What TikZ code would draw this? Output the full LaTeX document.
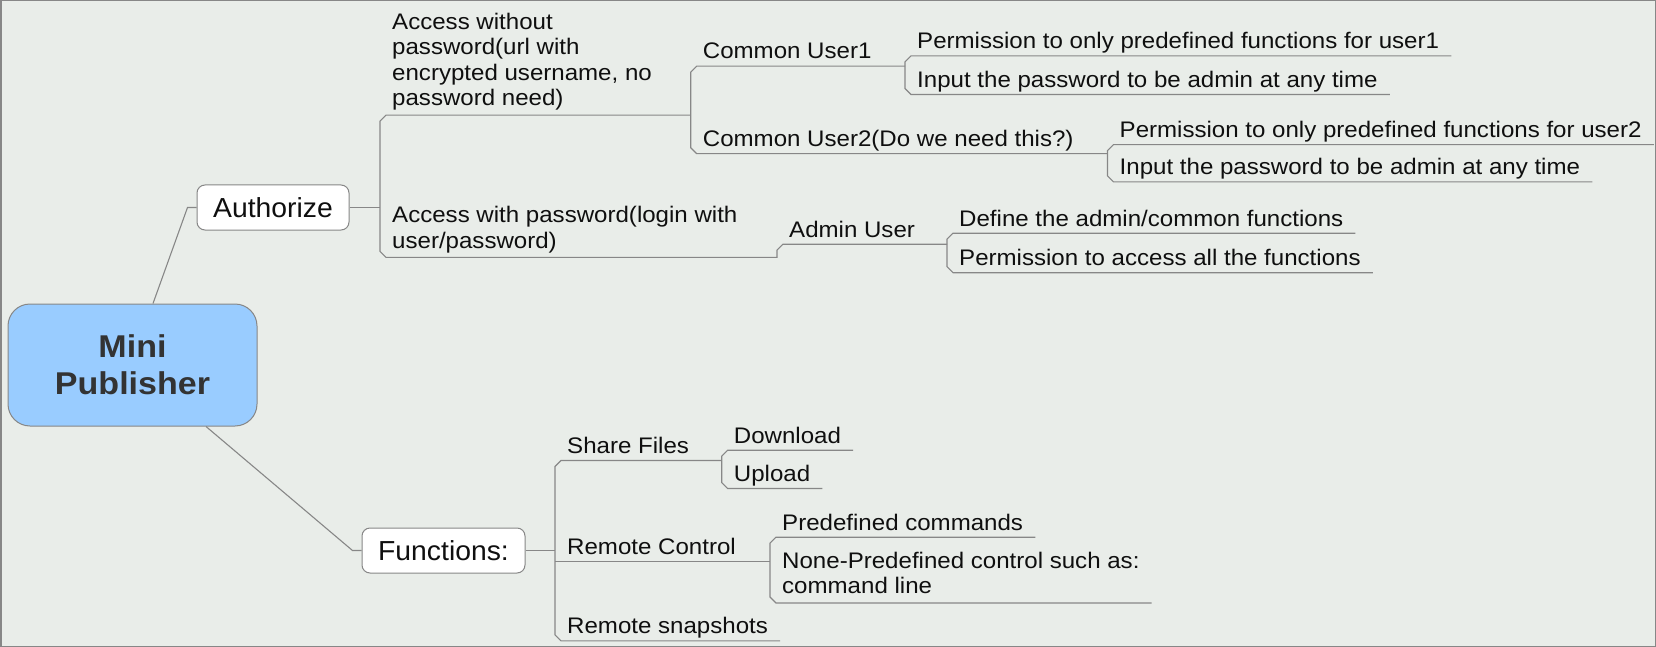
\documentclass[tikz,border=0pt]{standalone}
\usepackage{fontspec}
\setmainfont{Liberation Sans}
\newfontfamily\topicfam{Liberation Sans}[FakeStretch=1.07]
\newfontfamily\nodefam{Liberation Sans}[FakeStretch=1.03]
\newfontfamily\rootfam{Liberation Sans}[FakeStretch=1.08]
\definecolor{bgc}{RGB}{233,237,233}
\definecolor{lnc}{RGB}{135,135,135}
\definecolor{rootfill}{RGB}{153,204,255}
\definecolor{txtc}{RGB}{15,15,15}
\definecolor{roottxt}{RGB}{51,51,51}
\begin{document}
\begin{tikzpicture}[x=1pt,y=-1pt,
  conn/.style={draw=lnc, line width=1.1pt},
  topic/.style={anchor=base west, inner xsep=12pt, inner ysep=0pt, text depth=7pt, text=txtc,
    font=\topicfam\fontsize{22.5}{25.5}\selectfont},
  lvlbox/.style={draw=lnc, line width=1pt, fill=white, rounded corners=8pt, inner sep=0pt, text=txtc,
    font=\nodefam\fontsize{27.5}{32}\selectfont},
  rootbox/.style={draw=lnc, line width=1pt, fill=rootfill, rounded corners=22pt, minimum width=249pt,
    minimum height=122pt, align=center, text=roottxt, font=\rootfam\bfseries\fontsize{31.5}{36.7}\selectfont}
]
\fill[bgc] (0,0) rectangle (1656,647);
\draw[lnc, line width=1.5pt] (0.75,0.75) rectangle (1655.25,646.25);
\useasboundingbox (0,0) rectangle (1656,647);

% main nodes
\node[rootbox] (root) at (132.5,365) {Mini\\Publisher};
\node[lvlbox, minimum width=152pt, minimum height=45pt] (auth) at (273,207.5) {Authorize};
\node[lvlbox, minimum width=163pt, minimum height=45pt] (func) at (443.5,550.5) {Functions:};

% Authorize subtree
\node[topic, text depth=85.5pt] (accnp) at (380,29.5) {\begin{tabular}[t]{@{}l@{}}Access without\\password(url with\\encrypted username, no\\password need)\end{tabular}};
\node[topic, text depth=34.5pt] (accp) at (380,222.7) {\begin{tabular}[t]{@{}l@{}}Access with password(login with\\user/password)\end{tabular}};
\node[topic] (cu1) at (690.7,59) {Common User1};
\node[topic] (cu2) at (690.7,146.5) {Common User2(Do we need this?)};
\node[topic] (p1) at (905,48.7) {Permission to only predefined functions for user1};
\node[topic] (i1) at (905,87.3) {Input the password to be admin at any time};
\node[topic] (p2) at (1107.5,137.5) {Permission to only predefined functions for user2};
\node[topic] (i2) at (1107.5,174.7) {Input the password to be admin at any time};
\node[topic] (admin) at (777,237) {Admin User};
\node[topic] (def) at (947,226) {Define the admin/common functions};
\node[topic] (pall) at (947,265.5) {Permission to access all the functions};

% Functions subtree
\node[topic] (share) at (555,453.3) {Share Files};
\node[topic] (dl) at (721.7,443) {Download};
\node[topic] (up) at (721.7,481.3) {Upload};
\node[topic] (rc) at (555,554) {Remote Control};
\node[topic] (pc) at (770,530) {Predefined commands};
\node[topic, text depth=34.5pt] (np) at (770,568.3) {\begin{tabular}[t]{@{}l@{}}None-Predefined control such as:\\command line\end{tabular}};
\node[topic] (snap) at (555,633.7) {Remote snapshots};

% connectors from the root
\draw[conn] ([xshift=20.5pt]root.north) -- ([xshift=-9pt]auth.west) -- (auth.west);
\draw[conn] ([xshift=73.5pt]root.south) -- ([xshift=-9pt]func.west) -- (func.west);

% Authorize brackets
\draw[conn] (auth.east) -- (auth.east -| accnp.west);
\draw[conn] (accnp.south -| cu1.west) -- ([xshift=6pt]accnp.south west) -- ([yshift=-6pt]accnp.south west)
  -- ([yshift=6pt]accp.south west) -- ([xshift=6pt]accp.south west) -- (accp.south -| admin.west)
  -- ([yshift=-6pt]admin.south west) -- ([xshift=6pt]admin.south west) -- (admin.south -| def.west);
\draw[conn] (cu1.south -| p1.west) -- ([xshift=6pt]cu1.south west) -- ([yshift=-6pt]cu1.south west)
  -- ([yshift=6pt]cu2.south west) -- ([xshift=6pt]cu2.south west) -- (cu2.south -| p2.west);
\draw[conn] (p1.south east) -- ([xshift=6pt]p1.south west) -- ([yshift=-6pt]p1.south west)
  -- ([yshift=6pt]i1.south west) -- ([xshift=6pt]i1.south west) -- (i1.south east);
\draw[conn] (p2.south east) -- ([xshift=6pt]p2.south west) -- ([yshift=-6pt]p2.south west)
  -- ([yshift=6pt]i2.south west) -- ([xshift=6pt]i2.south west) -- (i2.south east);
\draw[conn] (def.south east) -- ([xshift=6pt]def.south west) -- ([yshift=-6pt]def.south west)
  -- ([yshift=6pt]pall.south west) -- ([xshift=6pt]pall.south west) -- (pall.south east);

% Functions brackets
\draw[conn] (func.east) -- (func.east -| share.west);
\draw[conn] (share.south -| dl.west) -- ([xshift=6pt]share.south west) -- ([yshift=-6pt]share.south west)
  -- ([yshift=6pt]snap.south west) -- ([xshift=6pt]snap.south west) -- (snap.south east);
\draw[conn] (rc.south west) -- (rc.south -| pc.west);
\draw[conn] (dl.south east) -- ([xshift=6pt]dl.south west) -- ([yshift=-6pt]dl.south west)
  -- ([yshift=6pt]up.south west) -- ([xshift=6pt]up.south west) -- (up.south east);
\draw[conn] (pc.south east) -- ([xshift=6pt]pc.south west) -- ([yshift=-6pt]pc.south west)
  -- ([yshift=6pt]np.south west) -- ([xshift=6pt]np.south west) -- (np.south east);
\end{tikzpicture}
\end{document}
